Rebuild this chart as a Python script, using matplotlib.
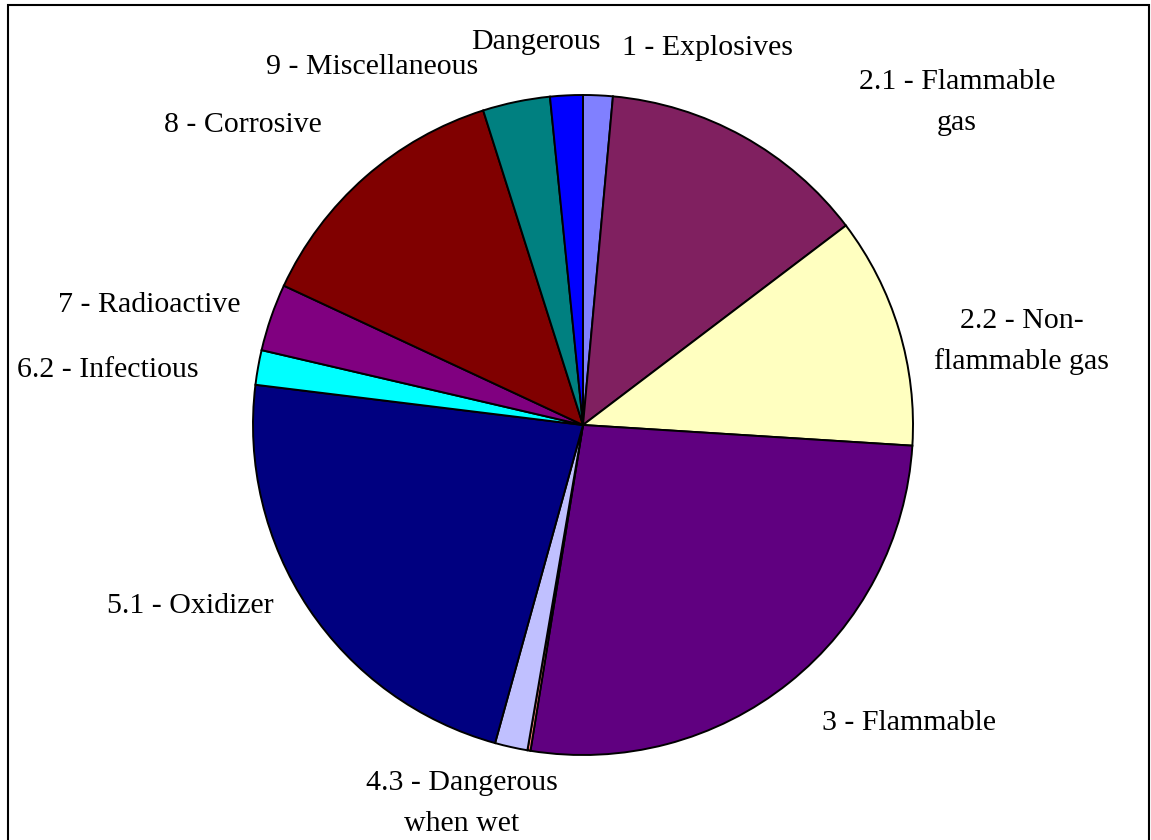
import matplotlib
matplotlib.use("Agg")
import matplotlib.pyplot as plt
from matplotlib.patches import Rectangle

# hazard classes, clockwise from 12 o'clock (share of total, %)
classes = ['1 - Explosives', '2.1 - Flammable\ngas', '2.2 - Non-\nflammable gas',
           '3 - Flammable', '', '4.3 - Dangerous\nwhen wet', '5.1 - Oxidizer',
           '6.2 - Infectious', '7 - Radioactive', '8 - Corrosive',
           '9 - Miscellaneous', 'Dangerous']
shares = [1.45, 13.25, 11.35, 26.6, 0.15, 1.6, 22.7, 1.7, 3.3, 13.2, 3.3, 1.6]
colors = ['#8080FF', '#802060', '#FFFFC0', '#600080', '#FF8080', '#C0C0FF',
          '#000080', '#00FFFF', '#800080', '#800000', '#008080', '#0000FF']

# label anchors in pixels: (center x, baseline of first line)
label_pos = [(708, 55), (957, 89), (1022, 328), (909, 730), None, (462, 790),
             (190, 613), (108, 377), (149, 312), (243, 132), (372, 74), (536, 49)]

W, H = 1151, 840
fig = plt.figure(figsize=(W / 100, H / 100), dpi=100)
ax = fig.add_axes([0, 0, 1, 1])

ax.pie(shares, colors=colors, startangle=90, counterclock=False,
       radius=330, center=(583, H - 425),
       wedgeprops=dict(edgecolor='black', linewidth=1.4))
ax.set_xlim(0, W)
ax.set_ylim(0, H)
ax.set_aspect('equal')
ax.axis('off')

line_gap = 41
for name, pos in zip(classes, label_pos):
    if pos is None:
        continue
    for i, line in enumerate(name.split('\n')):
        ax.text(pos[0], H - pos[1] - i * line_gap, line, ha='center', va='baseline',
                fontsize=21.5, family='Liberation Serif', color='black')

# chart area border (bottom edge falls outside the image)
ax.add_patch(Rectangle((8, -10), 1141, H - 5 + 10, fill=False,
                       edgecolor='black', linewidth=1.5, clip_on=False))

fig.savefig('out.png', dpi=100)
